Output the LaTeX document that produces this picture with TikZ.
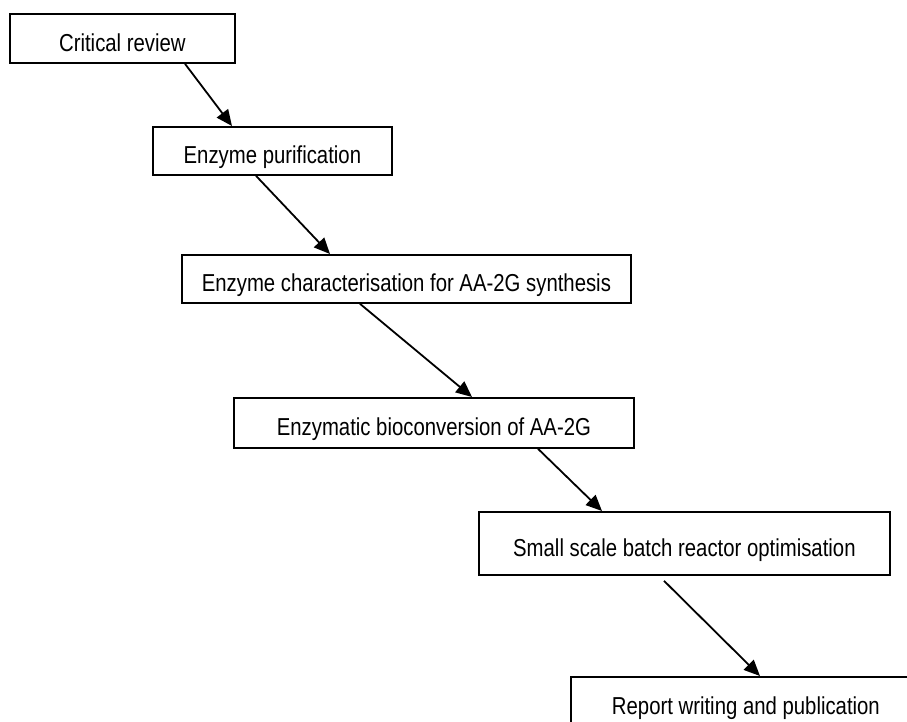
\documentclass[tikz,border=0pt]{standalone}
\usepackage{fontspec}
\setmainfont{Liberation Sans}[FakeStretch=0.83]
\usetikzlibrary{arrows.meta}
\tikzset{
  stage/.style={draw=black, line width=1.8pt, fill=white, inner sep=0pt, anchor=north west,
    font=\fontsize{24.5}{29}\selectfont, text height=26pt, text depth=0pt},
  flow/.style={draw=black, line width=1.8pt, -{Triangle[length=16pt,width=14pt]}}
}
\begin{document}
\begin{tikzpicture}[x=1pt,y=-1pt]
\useasboundingbox (0,0) rectangle (907,721);
\clip (0,0) rectangle (907,721);
\node[stage, minimum width=225pt, minimum height=49pt] (b1) at (9,13) {Critical review};
\node[stage, minimum width=239pt, minimum height=48pt] (b2) at (152,126) {Enzyme purification};
\node[stage, minimum width=449pt, minimum height=48pt] (b3) at (181,254) {Enzyme characterisation for AA-2G synthesis};
\node[stage, minimum width=400pt, minimum height=50pt] (b4) at (233,397) {Enzymatic bioconversion of AA-2G};
\node[stage, minimum width=411pt, minimum height=63pt] (b5) at (478,511) {Small scale batch reactor optimisation};
\node[stage, minimum width=350pt, minimum height=50pt] (b6) at (570,676) {Report writing and publication};
\draw[flow] ([xshift=176pt]b1.south west) -- ([xshift=80pt]b2.north west);
\draw[flow] ([xshift=104pt]b2.south west) -- ([xshift=149pt]b3.north west);
\draw[flow] ([xshift=179pt]b3.south west) -- ([xshift=239pt]b4.north west);
\draw[flow] ([xshift=305pt]b4.south west) -- ([xshift=124pt]b5.north west);
\draw[flow] ([xshift=186pt,yshift=-5pt]b5.south west) -- ([xshift=190pt]b6.north west);
\end{tikzpicture}
\end{document}
